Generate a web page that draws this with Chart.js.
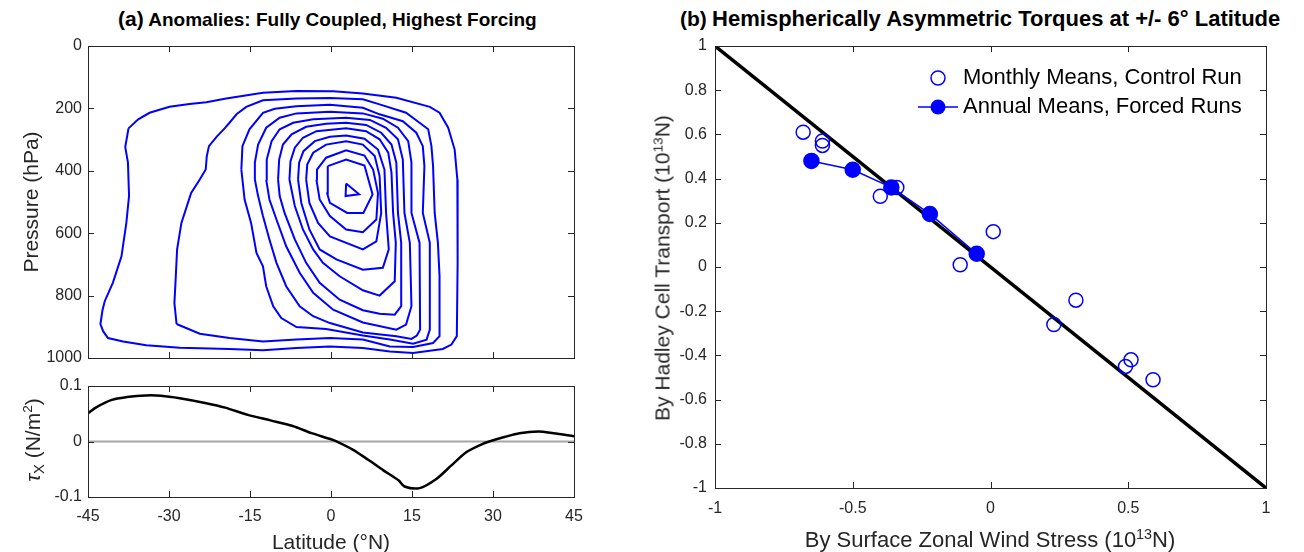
<!DOCTYPE html>
<html>
<head>
<meta charset="utf-8">
<script src="https://cdn.jsdelivr.net/npm/chart.js@4.4.1/dist/chart.umd.min.js"></script>
<style>
  body { margin:0; width:1304px; height:552px; background:#fff; position:relative; overflow:hidden;
         font-family:"Liberation Sans", Arial, Helvetica, sans-serif; color:#000; }
  .wrap { position:absolute; }
  .txt { position:absolute; white-space:nowrap; line-height:1; }
  .ttl { font-weight:bold; font-size:19px; }
  .ttl b { font-size:21px; }
  .ax { font-size:21px; color:#262626; }
  .rot { transform:translate(-50%,-50%) rotate(-90deg); }
  .ctr { transform:translate(-50%,-50%); }
  sup { font-size:0.65em; vertical-align:0.55em; line-height:0; }
  sub { font-size:0.7em; vertical-align:-0.3em; line-height:0; }
</style>
</head>
<body>
<div class="wrap" style="left:28px;top:36px;width:566px;height:342px"><canvas id="contourChart"></canvas></div>
<div class="wrap" style="left:28px;top:376px;width:566px;height:176px"><canvas id="tauChart"></canvas></div>
<div class="wrap" style="left:655px;top:36px;width:641px;height:516px"><canvas id="torqueChart"></canvas></div>

<div class="txt ttl" style="left:118px;top:8px"><b>(a)</b> Anomalies: Fully Coupled, Highest Forcing</div>
<div class="txt ttl" style="left:680px;top:8px"><b>(b)</b> <span style="font-size:22px">Hemispherically Asymmetric Torques at +/- 6° Latitude</span></div>
<div class="txt ax rot" style="left:30px;top:202px">Pressure (hPa)</div>
<div class="txt ax rot" style="left:32px;top:440px"><i>τ</i><sub>X</sub> (N/m<sup>2</sup>)</div>
<div class="txt ax ctr" style="left:331px;top:541px">Latitude (°N)</div>
<div class="txt ax rot" style="left:662px;top:268px">By Hadley Cell Transport (10<sup>13</sup>N)</div>
<div class="txt ax ctr" style="left:990px;top:540px;font-size:22px">By Surface Zonal Wind Stress (10<sup>13</sup>N)</div>

<script>
// streamfunction anomaly contours, [latitude, pressure], outermost first
const ring1 = [[-37.5,264],[-35.7,235],[-33.6,214],[-29.9,195],[-26.2,186],[-23.1,180],[-19.4,168],[-12.6,150],[-6.4,144],[0.4,145],[5.9,152],[12.1,166],[18.3,195],[20.1,214],[21.7,262],[22.9,332],[23.4,428],[23.5,545],[23.4,695],[23.3,930],[22.3,957],[20.7,971],[15.2,984],[10.9,979],[5.9,968],[-0.2,963],[-6.4,968],[-12.6,975],[-18.8,971],[-28.0,967],[-34.2,959],[-38.5,947],[-41.3,936],[-42.2,914],[-42.7,891],[-42.3,845],[-41.9,818],[-40.4,759],[-38.8,674],[-37.9,567],[-37.4,481],[-37.6,374],[-38.1,324],[-37.5,264]];
const ring2 = [[-28.6,891],[-29.0,824],[-28.8,759],[-28.5,652],[-27.7,567],[-25.9,471],[-24.3,428],[-23.2,396],[-23.0,353],[-22.6,321],[-21.2,291],[-19.7,264],[-18.8,246],[-17.5,219],[-15.7,195],[-12.6,174],[-6.4,168],[-0.2,167],[5.9,171],[9.0,187],[13.9,214],[16.4,246],[18.0,267],[18.6,321],[18.9,385],[19.2,535],[19.8,631],[20.1,738],[20.1,930],[18.9,952],[15.2,965],[10.9,963],[5.9,941],[-0.2,936],[-6.4,941],[-12.6,947],[-18.8,936],[-24.3,922],[-28.6,891]];
const ring3 = [[-16.6,396],[-16.4,321],[-15.1,267],[-12.6,214],[-10.4,201],[-6.4,193],[-0.2,188],[5.9,198],[9.0,219],[13.3,241],[15.8,278],[17.0,321],[17.3,385],[17.0,535],[18.3,631],[18.3,909],[17.7,941],[15.2,954],[10.9,941],[5.9,928],[-0.9,907],[-6.4,901],[-9.2,872],[-10.7,834],[-12.0,770],[-12.6,706],[-13.8,663],[-14.8,567],[-16.0,492],[-16.6,396]];
const ring4 = [[-14.1,428],[-14.1,374],[-13.5,316],[-12.0,262],[-9.5,230],[-6.4,216],[-0.2,211],[5.9,216],[9.6,233],[12.4,262],[14.3,305],[14.9,374],[14.9,535],[16.4,631],[16.5,909],[15.9,928],[14.9,939],[12.1,930],[5.9,918],[-0.2,888],[-3.3,866],[-5.8,834],[-8.3,770],[-10.1,695],[-11.4,620],[-12.6,545],[-13.5,481],[-14.1,428]];
const ring5 = [[-12.0,428],[-11.9,364],[-11.0,305],[-9.5,267],[-7.0,246],[-3.3,235],[2.8,230],[7.2,237],[10.2,262],[12.4,299],[13.3,364],[13.6,535],[14.6,631],[14.9,834],[13.9,893],[12.1,909],[5.9,886],[0.4,845],[-3.3,791],[-5.8,727],[-8.3,642],[-10.1,556],[-11.4,492],[-12.0,428]];
const ring6 = [[-9.8,428],[-9.6,364],[-8.9,316],[-7.3,283],[-4.6,259],[-0.9,249],[2.8,246],[6.5,253],[9.3,278],[11.2,316],[12.1,374],[12.4,535],[13.0,631],[13.0,834],[11.8,861],[9.0,858],[5.9,847],[1.6,813],[-2.1,759],[-4.6,695],[-6.7,620],[-8.6,535],[-9.5,481],[-9.8,428]];
const ring7 = [[-7.7,428],[-7.5,369],[-6.7,326],[-5.2,294],[-2.7,273],[2.8,264],[6.5,273],[9.0,299],[10.6,342],[11.2,406],[11.5,535],[12.0,631],[11.8,754],[9.0,800],[5.9,783],[1.6,738],[-1.5,695],[-3.3,652],[-5.2,588],[-6.7,513],[-7.7,428]];
const ring8 = [[-6.1,428],[-5.9,374],[-5.1,337],[-3.0,305],[-0.2,291],[2.8,287],[6.2,297],[8.7,332],[9.9,396],[10.2,535],[10.7,652],[9.6,711],[5.9,717],[1.0,684],[-2.1,652],[-4.0,588],[-5.5,503],[-6.1,428]];
const ring9 = [[-4.6,428],[-4.4,380],[-3.3,342],[-0.9,316],[2.8,305],[5.9,316],[8.1,353],[9.0,417],[9.3,535],[8.4,626],[5.9,652],[-0.2,610],[-2.4,567],[-4.0,503],[-4.6,428]];
const ring10 = [[-2.7,428],[-2.6,396],[-0.9,358],[2.8,334],[6.2,351],[7.8,396],[8.7,471],[8.4,556],[5.9,597],[2.8,588],[-0.2,545],[-2.1,492],[-2.7,428]];
const ring11 = [[-0.6,385],[2.8,364],[6.2,383],[7.7,476],[6.0,535],[3.0,535],[-0.2,503],[-0.7,473],[-0.6,385]];
const ring12 = [[2.8,441],[5.2,475],[2.7,481],[2.8,441]];

// zonal wind stress anomaly
const tauLat = [-45,-43.4,-40.6,-37.8,-34.3,-31.5,-28.0,-23.1,-19.6,-15.4,-11.2,-7.1,-3.6,0,1.3,4.1,6.9,9.7,12.5,13.6,16.4,19.5,22.3,25.1,27.9,29.3,32.1,34.9,38.4,41.2,45];
const tauX = [0.051,0.062,0.075,0.080,0.083,0.0825,0.078,0.069,0.061,0.048,0.038,0.028,0.015,0.004,-0.001,-0.015,-0.033,-0.052,-0.070,-0.081,-0.084,-0.0675,-0.043,-0.019,-0.005,0.0,0.008,0.015,0.018,0.015,0.0096];
const tauZero = [[-45,0],[45,0]];

// torques panel
const monthlyX = [-0.68,-0.61,-0.61,-0.40,-0.34,-0.11,0.01,0.31,0.23,0.49,0.51,0.59];
const monthlyY = [0.61,0.57,0.55,0.32,0.36,0.01,0.16,-0.15,-0.26,-0.45,-0.42,-0.51];
const annualX = [-0.65,-0.50,-0.36,-0.22,-0.05];
const annualY = [0.48,0.44,0.36,0.24,0.06];
const diagX = [-1,1];
const diagY = [1,-1];
const legendLabels = ['Monthly Means, Control Run','Annual Means, Forced Runs'];

const blue = '#0000ff';
const axisColor = '#262626';
const fontFam = '"Liberation Sans", Arial, Helvetica, sans-serif';
const tickFont = { family: fontFam, size: 16 };

function pts(xs, ys) { return xs.map((x, i) => ({ x: x, y: ys[i] })); }
function pairs(arr) { return arr.map(p => ({ x: p[0], y: p[1] })); }
function plainNum(v) { return String(+v.toFixed(2)); }

// MATLAB-style box with inward ticks
const boxTicks = {
  id: 'boxTicks',
  afterDraw(chart) {
    const ctx = chart.ctx, a = chart.chartArea, sx = chart.scales.x, sy = chart.scales.y;
    const len = 6;
    ctx.save();
    ctx.strokeStyle = axisColor;
    ctx.lineWidth = 1;
    ctx.strokeRect(Math.round(a.left) + 0.5, Math.round(a.top) + 0.5,
                   Math.round(a.right - a.left), Math.round(a.bottom - a.top));
    ctx.beginPath();
    sx.ticks.forEach(t => {
      const px = Math.round(sx.getPixelForValue(t.value)) + 0.5;
      ctx.moveTo(px, a.bottom); ctx.lineTo(px, a.bottom - len);
      ctx.moveTo(px, a.top); ctx.lineTo(px, a.top + len);
    });
    sy.ticks.forEach(t => {
      const py = Math.round(sy.getPixelForValue(t.value)) + 0.5;
      ctx.moveTo(a.left, py); ctx.lineTo(a.left + len, py);
      ctx.moveTo(a.right, py); ctx.lineTo(a.right - len, py);
    });
    ctx.stroke();
    ctx.restore();
  }
};

function xAxis(min, max, step, showLabels, h, pad) {
  return {
    type: 'linear', min: min, max: max,
    grid: { display: false, drawTicks: false }, border: { display: false },
    ticks: { display: showLabels, stepSize: step, color: axisColor, font: tickFont, padding: pad,
             maxRotation: 0, callback: plainNum },
    afterFit(scale) { scale.height = h; scale.paddingLeft = 0; scale.paddingRight = 0; }
  };
}
function yAxis(min, max, step, w, pad, reverse) {
  return {
    type: 'linear', min: min, max: max, reverse: !!reverse,
    grid: { display: false, drawTicks: false }, border: { display: false },
    ticks: { stepSize: step, color: axisColor, font: tickFont, padding: pad, callback: plainNum },
    afterFit(scale) { scale.width = w; scale.paddingTop = 0; scale.paddingBottom = 0; }
  };
}
const baseOpts = {
  responsive: true,
  maintainAspectRatio: false,
  animation: false,
  plugins: { legend: { display: false }, tooltip: { enabled: false } }
};

// (a) top: contours
const rings = [ring1, ring2, ring3, ring4, ring5, ring6, ring7, ring8, ring9, ring10, ring11, ring12];
new Chart(document.getElementById('contourChart'), {
  type: 'scatter',
  data: {
    datasets: rings.map(r => ({
      data: pairs(r),
      showLine: true,
      pointRadius: 0,
      borderColor: blue,
      borderWidth: 2,
      tension: 0
    }))
  },
  options: Object.assign({}, baseOpts, {
    layout: { autoPadding: false, padding: { top: 10, right: 20, left: 0, bottom: 0 } },
    scales: {
      x: xAxis(-45, 45, 15, false, 20, 10),
      y: yAxis(0, 1000, 200, 60, 6, true)
    }
  }),
  plugins: [boxTicks]
});

// (a) bottom: wind stress
new Chart(document.getElementById('tauChart'), {
  type: 'scatter',
  data: {
    datasets: [
      { data: pts(tauLat, tauX), showLine: true, pointRadius: 0, borderColor: '#000', borderWidth: 2.5, tension: 0.3, order: 0 },
      { data: pairs(tauZero), showLine: true, pointRadius: 0, borderColor: '#a6a6a6', borderWidth: 2, order: 1 }
    ]
  },
  options: Object.assign({}, baseOpts, {
    layout: { autoPadding: false, padding: { top: 10, right: 20, left: 0, bottom: 0 } },
    scales: {
      x: xAxis(-45, 45, 15, true, 55, 10),
      y: yAxis(-0.1, 0.1, 0.1, 60, 6)
    }
  }),
  plugins: [boxTicks]
});

// (b) legend drawn inside the axes
const insideLegend = {
  id: 'insideLegend',
  afterDraw(chart) {
    const ctx = chart.ctx, a = chart.chartArea;
    const mx = a.left + 223, y1 = a.top + 32, y2 = a.top + 61;
    ctx.save();
    ctx.strokeStyle = blue;
    ctx.lineWidth = 1.5;
    ctx.beginPath(); ctx.arc(mx, y1, 7, 0, Math.PI * 2); ctx.stroke();
    ctx.beginPath(); ctx.moveTo(mx - 20, y2); ctx.lineTo(mx + 20, y2); ctx.stroke();
    ctx.fillStyle = blue;
    ctx.beginPath(); ctx.arc(mx, y2, 7.5, 0, Math.PI * 2); ctx.fill();
    ctx.fillStyle = '#000';
    ctx.font = '22px ' + fontFam;
    ctx.textBaseline = 'middle';
    ctx.fillText(legendLabels[0], mx + 25, y1);
    ctx.fillText(legendLabels[1], mx + 25, y2);
    ctx.restore();
  }
};

new Chart(document.getElementById('torqueChart'), {
  type: 'scatter',
  data: {
    datasets: [
      { label: legendLabels[1], data: pts(annualX, annualY), showLine: true, borderColor: blue, borderWidth: 1.5,
        pointRadius: 7.5, pointBackgroundColor: blue, pointBorderColor: blue, order: 0 },
      { label: legendLabels[0], data: pts(monthlyX, monthlyY), showLine: false, pointRadius: 7,
        pointBackgroundColor: 'rgba(0,0,0,0)', pointBorderColor: blue, pointBorderWidth: 1.5, order: 1 },
      { data: pts(diagX, diagY), showLine: true, pointRadius: 0, borderColor: '#000', borderWidth: 3.5, order: 2 }
    ]
  },
  options: Object.assign({}, baseOpts, {
    layout: { autoPadding: false, padding: { top: 10, right: 30, left: 0, bottom: 0 } },
    scales: {
      x: xAxis(-1, 1, 0.5, true, 64, 11),
      y: yAxis(-1, 1, 0.2, 60, 8)
    }
  }),
  plugins: [boxTicks, insideLegend]
});
</script>
</body>
</html>
